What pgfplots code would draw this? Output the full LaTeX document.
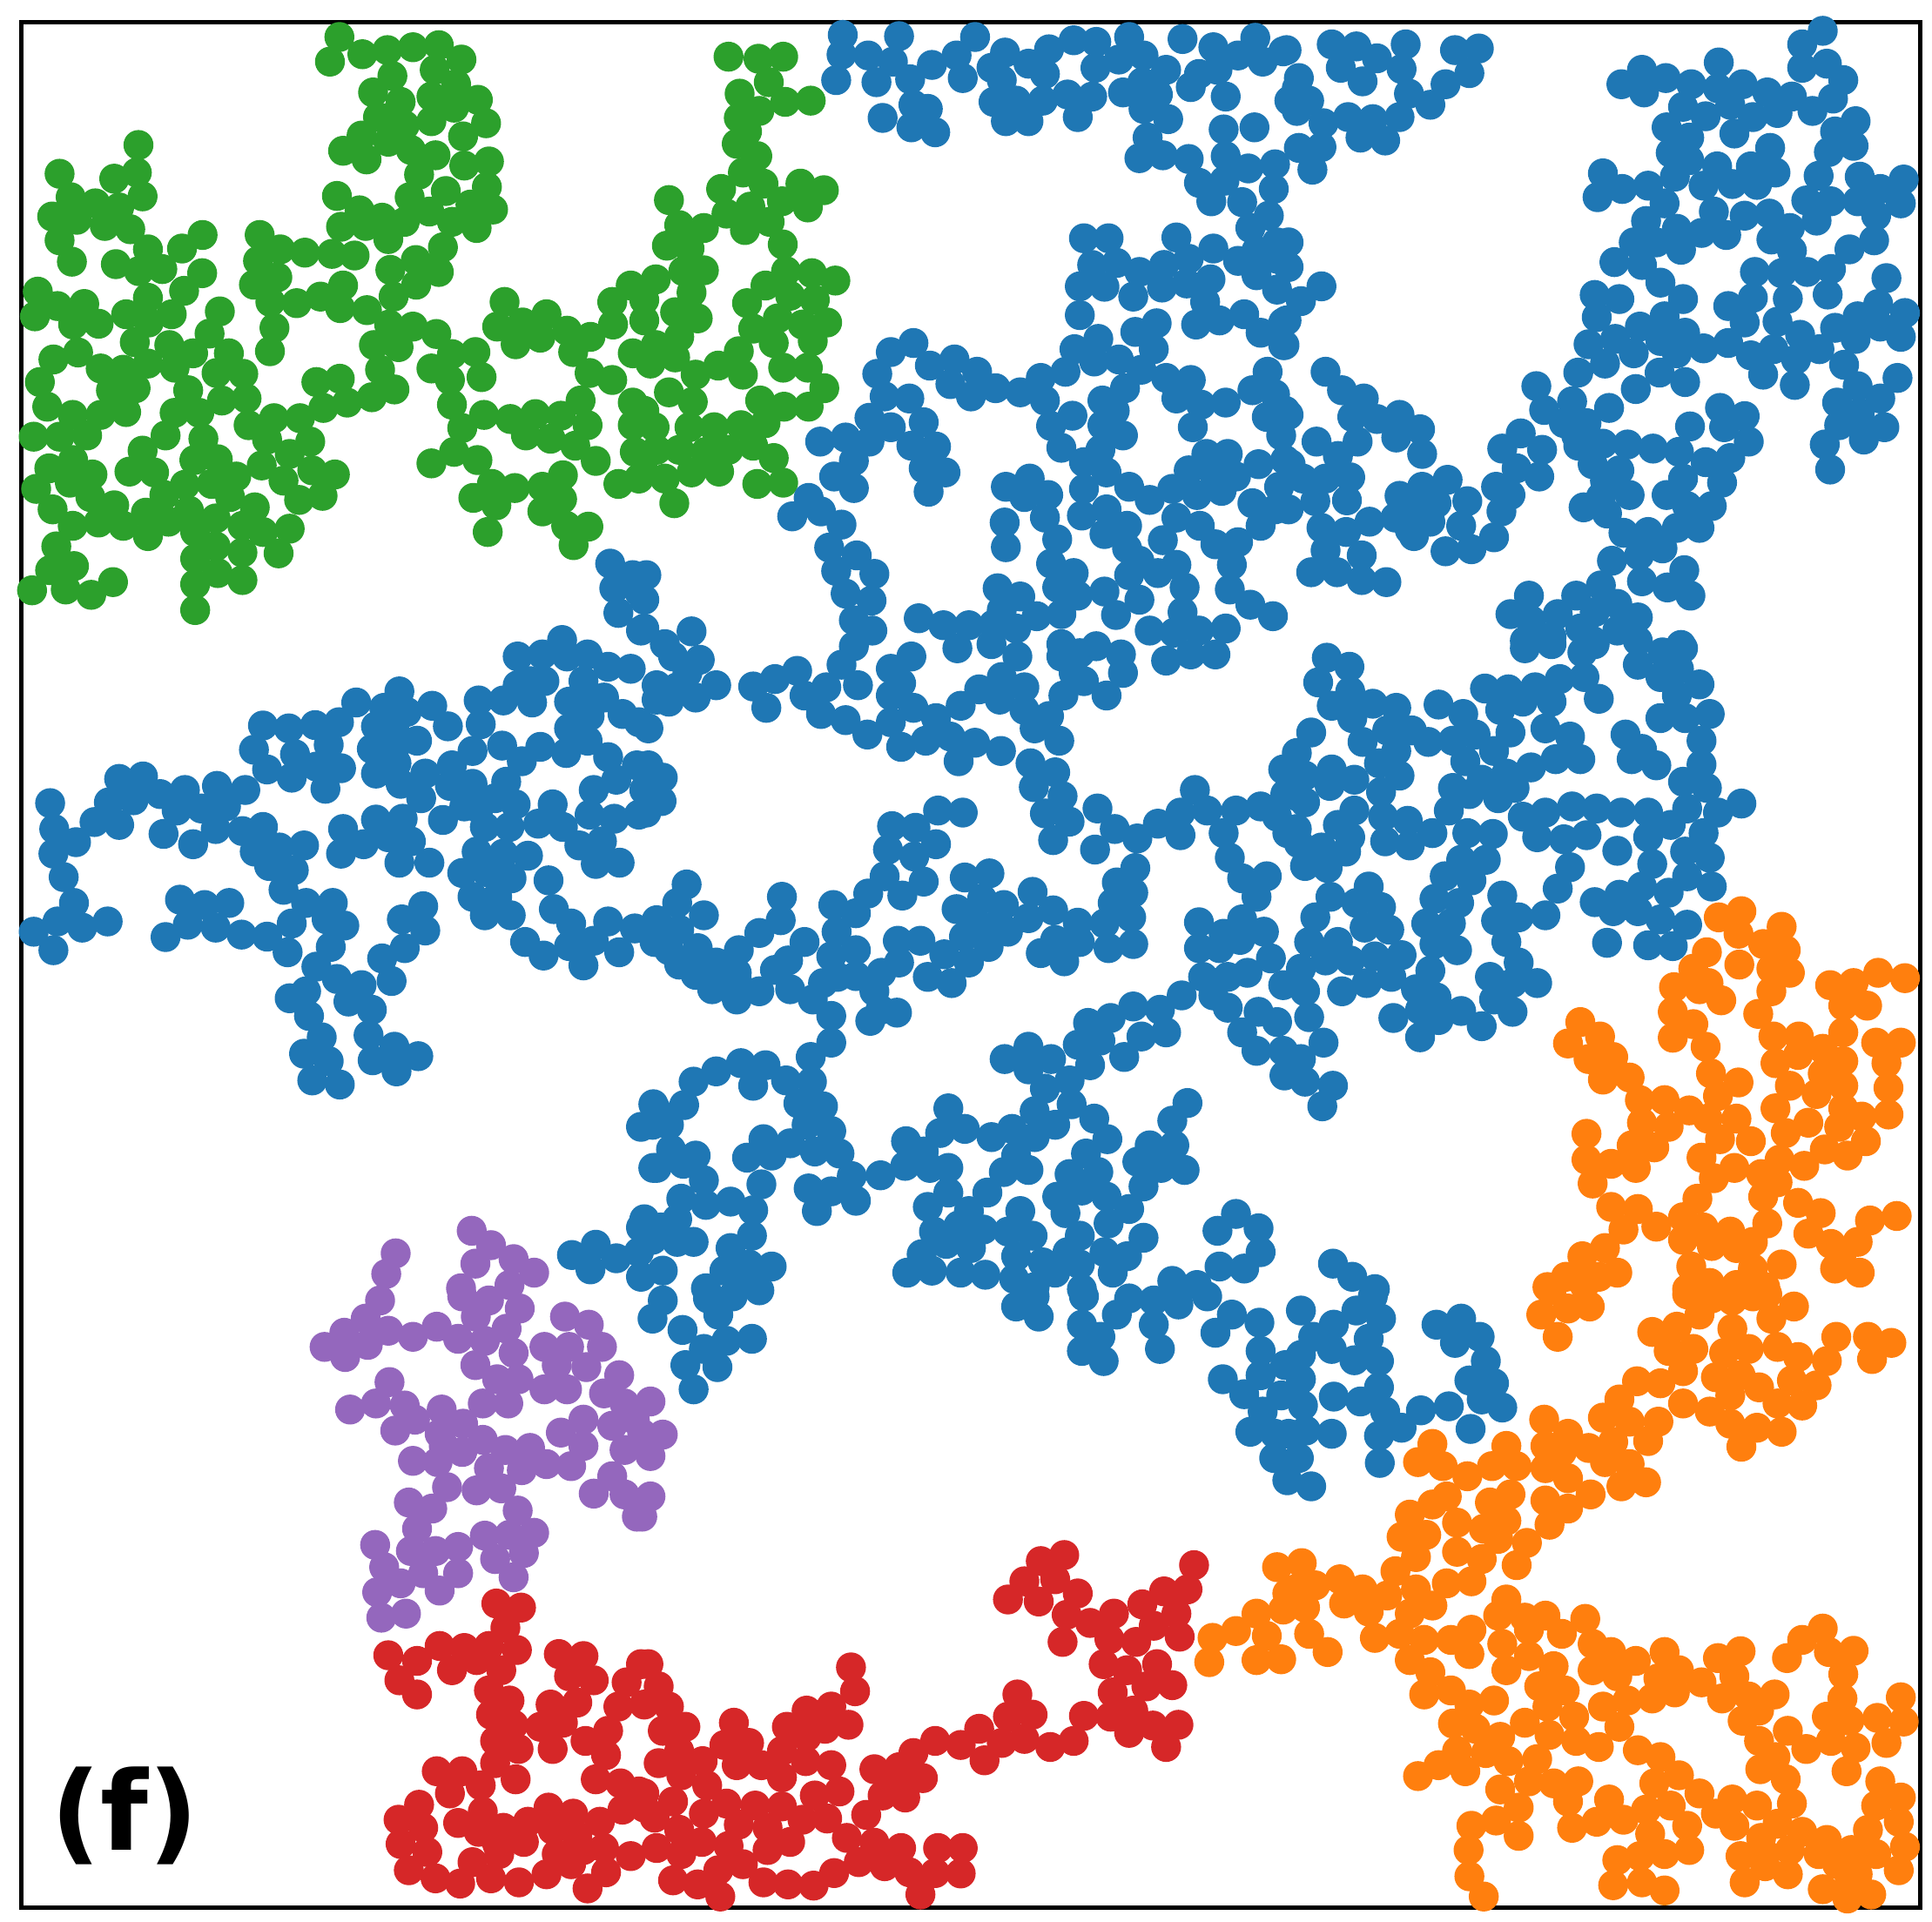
\documentclass[border=0pt]{standalone}
\usepackage{fontspec}
\usepackage{pgfplots}
\pgfplotsset{compat=1.18}
\setmainfont{DejaVu Sans}
\definecolor{cb}{HTML}{1F77B4}
\definecolor{co}{HTML}{FF7F0E}
\definecolor{cg}{HTML}{2CA02C}
\definecolor{cr}{HTML}{D62728}
\definecolor{cp}{HTML}{9467BD}
\pgfplotsset{
  tile/.style n args={3}{only marks, mark=*, mark size=4.1pt, color=#1, mark options={draw=none, fill=#1},
    x filter/.expression={x/2.119+#2}, y filter/.expression={y/2.119+#3}},
  tileb/.style n args={2}{only marks, mark=*, mark size=4.1pt, color=#1, mark options={draw=none, fill=#1},
    x filter/.expression={x/2.119+#2}, y filter/.expression={y/2.154+1480}}
}
\begin{document}
\begin{tikzpicture}
\begin{axis}[
  scale only axis, width=545.25pt, height=541.5pt,
  xmin=24, xmax=2205, ymin=25, ymax=2191, y dir=reverse,
  ticks=none, axis line style={line width=1.25pt, black}, clip=true
]
% tile 1
\addplot[tile={cg}{0}{0}] coordinates {(826,90) (803,150) (882,132) (943,122) (1005,115) (1068,110) (1123,145) (955,185) (1058,170) (1110,205) (908,225) (975,248) (1050,235) (1105,262) (1163,243) (1183,300) (1050,295) (1127,332) (920,285) (960,280) (880,330) (985,305) (945,345) (835,367) (892,388) (1000,365) (1060,378) (1190,393) (1130,403) (1020,425) (1185,455) (1085,465) (997,480) (820,477) (1200,510) (875,512) (930,530) (1145,498) (1045,515) (1100,540) (985,540) (1160,555) (830,552) (890,550) (945,582) (1078,602) (1012,633) (863,622) (808,618) (742,615) (682,607) (632,572) (628,635) (950,657) (1068,662) (1040,655) (1013,693) (958,722) (618,693) (675,675) (640,670) (658,735) (835,695) (780,722) (722,738) (828,750) (893,755) (668,798) (657,855) (947,790) (1005,795) (1062,813) (970,845) (910,840) (1100,862) (1157,857) (1050,897) (1095,925) (1172,918) (925,900) (960,948) (905,967) (845,980) (770,930) (827,922) (787,993) (730,1018) (667,1018) (1100,985) (1125,1042) (1178,1010) (1242,1020) (1303,1008) (1365,1012) (1413,975) (1430,1035) (1280,1060) (1340,1068) (1400,1085) (1450,1122) (1105,1100) (1050,1128) (1162,1120) (1197,1178) (1152,1212) (1208,1230) (1253,1188) (1187,1295) (1320,1185) (1370,1157) (1340,1220) (1368,1215) (1320,1245) (1378,1280) (1432,1282) (1396,1327)
(1228,735) (1210,795) (1272,785) (1330,765) (1255,838) (1315,822) (1380,805) (1395,857) (1437,820) (1435,908) (1490,925) (1492,790) (1490,735) (1535,695) (1540,860) (1540,980) (1540,1035) (1545,1100) (1505,1178) (1555,1165) (1568,780) (1568,730)
(337,353) (333,420) (278,435) (347,478) (145,423) (172,480) (232,495) (127,527) (187,535) (290,505) (255,550) (317,558) (145,585) (175,637) (360,607) (443,605) (493,572) (282,643) (338,660) (395,655) (492,665) (448,708) (360,725) (92,710) (140,745) (205,740) (85,770) (178,790) (240,788) (307,765) (362,785) (418,765) (535,758) (510,812) (328,833) (412,840) (470,860) (190,858) (130,875) (245,897) (360,885) (425,895) (557,860) (527,908) (592,910) (97,930) (300,900) (330,945) (270,950) (458,950) (115,990) (300,985) (540,975) (600,970) (177,1010) (245,1010) (307,1003) (425,1005) (485,1005) (605,1035) (82,1063) (145,1063) (212,1060) (403,1060) (495,1068) (347,1097) (650,1070) (755,1075) (705,1105) (120,1140) (178,1120) (225,1155) (170,1175) (315,1148) (375,1150) (473,1120) (530,1118) (637,1133) (760,1145) (815,1155) (690,1170) (88,1190) (450,1180) (515,1178) (575,1160) (400,1205) (220,1210) (728,1217) (785,1207) (128,1240) (278,1230) (355,1248) (460,1243) (560,1210) (620,1235) (525,1262) (590,1280) (177,1280) (240,1272) (300,1280) (360,1305) (410,1270) (475,1295) (640,1295) (705,1287) (137,1330) (678,1347) (525,1330) (590,1345) (475,1360) (180,1378) (122,1388) (530,1395) (590,1412) (78,1437) (160,1435) (222,1448) (275,1417) (475,1422) (475,1485)};
\addplot[tile={cb}{0}{0}] coordinates {(1485,1372) (1540,1400) (1495,1432) (1505,1492) (1555,1440) (1560,1535) (1368,1558)};
% tile 2
\addplot[tile={cg}{740}{0}] coordinates {(205,138) (278,143) (338,138) (303,200) (232,228) (343,248) (405,245) (230,287) (280,270) (250,320) (225,350) (275,380) (240,420) (290,447) (187,460) (380,447) (437,463) (60,487) (200,520) (258,503) (335,490) (398,505) (85,548) (145,555) (245,560) (305,540) (337,595) (55,598) (110,605) (345,660) (408,665) (465,683) (145,658) (95,660) (28,680) (295,695) (115,712) (355,720) (415,730) (250,738) (75,760) (130,775) (325,775) (445,785) (265,800) (385,790) (85,820) (315,835) (410,830) (28,840) (230,855) (75,870) (398,895) (338,895) (180,890) (125,912) (240,912) (15,885) (438,945) (60,955) (118,978) (282,975) (340,990) (400,990) (0,1000) (25,1040) (110,1040) (170,1040) (235,1035) (295,1030) (265,1085) (85,1095) (150,1100) (205,1095) (315,1115) (30,1095) (115,1150) (182,1148) (0,1150) (50,1165) (338,1175) (275,1178) (73,1225)};
\addplot[tile={cb}{740}{0}] coordinates {(483,85) (620,88) (480,133) (545,135) (605,150) (467,195) (565,200) (647,193) (700,158) (760,135) (805,90) (878,128) (775,190) (845,165) (935,155) (985,120) (1045,98) (1100,102) (1180,90) (1098,165) (1155,145) (1215,135) (870,195) (975,180) (850,248) (905,245) (970,245) (1030,230) (1090,235) (880,295) (935,295) (1055,285) (655,255) (690,265) (580,287) (650,310) (708,322)
(1310,95) (1385,115) (1487,92) (1445,135) (1505,150) (1555,125) (1270,170) (1350,180) (1395,170) (1212,200) (1165,225) (1330,212) (1415,235) (1250,230) (1215,265) (1275,290) (1570,245) (1410,315) (1485,310) (1225,335) (1205,385) (1262,378) (1325,387) (1415,380) (1470,410) (1350,445) (1412,440) (1535,400) (1532,460) (1380,490) (1455,492) (1520,525) (1475,555) (1540,590)
(1070,580) (1130,580) (1295,578) (1090,645) (1150,640) (1325,630) (1385,605) (1205,662) (1265,645) (1490,610) (1445,635) (1540,630) (1060,697) (1120,698) (1190,722) (1260,700) (1320,690) (1378,680) (1490,670) (1540,705) (1060,767) (1365,735) (1195,808) (1247,787) (1343,790) (1400,780) (1460,765) (1500,810) (1555,785) (1555,840) (1240,850) (1105,825) (1047,850) (1095,880) (1155,875) (1210,900) (1025,905) (965,920) (915,955) (1270,920) (1330,925) (1517,905) (1115,975) (1170,945) (1295,970) (1355,985) (1415,980) (1480,950) (1535,960) (975,975) (1042,1012) (1145,1000) (990,1037) (1115,1035) (1165,1060) (1335,1040) (1515,1015) (1560,1000) (1550,1060) (1015,1090) (1110,1095) (1070,1125) (1368,1105) (1420,1105) (1560,1120) (1125,1150) (1325,1145) (1385,1150) (1440,1160) (1495,1130) (1070,1190) (1180,1185) (1230,1217) (1285,1190) (1345,1205) (1405,1195) (1545,1185) (1480,1225) (1535,1240)
(880,1185) (938,1165) (983,1205) (925,1210) (975,1260) (877,1272) (880,1332) (1005,1313) (1065,1255) (1125,1240) (1175,1280) (1120,1300) (1295,1260) (1352,1280) (1500,1280) (1262,1315) (1175,1335) (1390,1325) (1445,1320) (990,1372) (1045,1395) (1205,1365) (1295,1375) (1430,1375) (1180,1400) (1250,1395) (1005,1430) (860,1432) (915,1452) (1055,1450) (1120,1440) (1315,1430) (1205,1460) (1425,1435) (1475,1472) (1530,1500) (870,1485) (955,1500) (1015,1495) (1148,1497) (1310,1490) (668,1505) (728,1522) (790,1522) (850,1520) (905,1530) (1015,1568) (1230,1535) (1290,1540) (1350,1535) (1415,1530) (1060,1590)
(655,835) (600,857) (567,910) (695,890) (755,875) (810,905) (745,935) (795,965) (855,945) (585,965) (645,970) (548,1017) (680,1028) (600,1040) (490,1065) (428,1075) (548,1075) (710,1087) (650,1085) (510,1122) (680,1140) (733,1150) (462,1160) (510,1188) (692,1197) (400,1212) (360,1257) (430,1245) (480,1277) (450,1333) (517,1352) (560,1397) (467,1390) (490,1445) (553,1462) (510,1510) (555,1535) (115,1537) (50,1568) (5,1400) (0,1460) (0,1530)};
% tile 3
\addplot[tile={cb}{1480}{0}] coordinates {(105,108) (165,113) (285,108) (215,142) (127,165) (275,168) (180,198) (405,122) (463,118) (440,178) (382,205) (293,228) (345,255) (25,190) (50,245) (20,215) (20,270) (85,300) (145,285) (205,290) (270,285) (175,335) (235,342) (-5,122) (80,358) (25,360) (58,413)
(1300,75) (1250,108) (1047,152) (860,170) (810,205) (918,190) (865,225) (980,205) (1105,205) (1045,215) (1165,225) (1225,235) (1250,165) (1310,155) (1350,195) (960,260) (1015,283) (1075,255) (1130,285) (1190,275) (1275,270) (1325,240) (1380,295) (920,310) (1085,325) (975,335) (1330,320) (1375,355) (1172,360) (930,372) (1315,370) (975,390) (1043,405) (1125,405) (1185,420) (765,422) (1290,428) (940,430) (875,452) (812,460) (752,480) (1010,452) (1080,448) (1140,450) (1390,430) (1497,437) (915,495) (1260,488) (1320,490) (1385,490) (1440,460) (1490,495) (1035,515) (1110,525) (1170,520) (870,538) (1285,537) (945,557) (1005,567) (1065,572) (1220,555) (1430,525) (840,590) (1175,583) (955,608) (895,590) (1365,607) (1425,585) (793,638) (860,645) (1225,610) (1135,662) (1200,665) (1262,662) (1320,655) (905,688) (1455,677) (745,718) (805,728) (960,728) (1130,725) (1215,727) (1312,717) (1070,745) (1435,740) (915,770) (750,772) (1190,783) (1110,785) (1385,770) (1500,762) (855,795) (1330,798) (1245,815) (1440,795) (795,825) (730,838) (965,810) (905,830) (1490,820) (1380,825) (1010,848) (1070,835) (840,860) (945,860) (1180,850) (1125,865) (1235,875) (1292,850) (770,885) (705,907) (903,907) (1155,912) (1352,888) (845,947) (965,930) (1232,937) (1385,940) (1482,920) (1440,970)
(603,940) (690,977) (780,993) (622,998) (1050,993) (1110,1013) (1335,980) (1390,1005) (725,1030) (670,1030) (977,1038) (565,1055) (700,1060) (765,1080) (1060,1040) (1120,1075) (1340,1035) (1400,1070) (1450,1040) (1385,1030) (520,1092) (617,1095) (825,1082) (887,1092) (705,1085) (1075,1115) (950,1100) (1305,1082) (740,1130) (1015,1125) (805,1145) (555,1140) (610,1160) (1318,1143) (505,1185) (960,1165) (1055,1175) (540,1205) (770,1170) (830,1205) (760,1210) (920,1205) (518,1245) (718,1235) (1030,1232) (970,1232) (775,1250) (1000,1285) (945,1285) (815,1297) (875,1295) (910,1335) (853,1352) (787,1365) (963,1388) (860,1415) (922,1430) (978,1450)
(90,905) (130,950) (183,970) (270,1010) (155,1015) (215,1020) (320,1045) (262,1065) (0,1010) (68,1075) (168,1075) (325,1105) (120,1110) (5,1130) (35,1165) (90,1165) (150,1162) (65,1220) (142,1218) (0,1240) (387,1168) (325,1185) (270,1207) (360,1225) (435,1220) (320,1245) (295,1290) (420,1280) (197,1270) (80,1285) (140,1295) (260,1260) (345,1270) (500,1308) (305,1305) (445,1337) (382,1342) (90,1340) (178,1352) (55,1393) (118,1393) (178,1412) (238,1417)
(585,1450) (760,1425) (700,1450) (540,1495) (655,1495) (800,1470) (745,1490) (850,1503) (590,1510) (710,1530) (800,1535) (575,1560) (640,1550) (740,1560) (850,1560) (955,1570) (80,697) (30,733) (-5,780) (-10,840) (0,590) (0,650)};
% tile 4
\addplot[tile={cb}{0}{740}] coordinates {(972,115) (867,142) (1052,150) (1090,200) (935,155) (990,165) (825,190) (640,198) (703,205) (767,197) (915,200) (960,205) (1015,235) (618,257) (718,268) (800,245) (905,255) (960,255) (650,305) (710,325) (770,298) (830,302) (915,315) (965,290) (792,352) (975,340) (1035,315) (1025,375) (290,328) (348,322) (265,385) (325,380) (390,365) (450,355) (528,345) (597,355) (122,387) (230,433) (290,440) (430,405) (490,400) (550,395) (132,450) (185,482) (398,462) (470,487) (525,450) (590,455) (640,445) (130,510) (620,505) (680,495) (740,490) (655,540) (715,550) (155,567) (690,598) (180,630) (438,622) (498,635) (558,630) (745,630) (810,630) (710,680) (795,670) (838,685) (140,675) (200,690) (262,675) (457,683) (525,690) (82,700) (588,707) (650,712) (403,713) (805,737) (700,750) (130,745) (770,785) (820,815) (880,830) (745,845) (705,862) (848,870) (905,890) (752,905) (783,957) (897,952) (740,997) (800,1015) (907,1013) (960,980) (1018,1003) (965,1040) (760,1062) (827,1072)
(1030,638) (978,670) (1035,697) (985,740) (930,765) (953,820) (835,450) (830,510) (885,487) (915,427) (980,425) (945,470) (1000,480) (972,532) (1045,532)
(1260,30) (1320,25) (1380,30) (1430,25) (1480,55) (1535,60) (1290,90) (1260,100) (1420,90) (1325,90) (1165,137) (1225,137) (1295,142) (1385,140) (1470,130) (1430,130) (1515,170) (1170,195) (1385,205) (1435,175) (1555,190) (1150,260) (1222,247) (1315,250) (1270,285) (1378,265) (1430,235) (1480,275) (1100,295) (1232,335) (1095,345) (1150,340) (1500,330) (1550,295) (1445,355) (1205,375) (1255,390) (1165,400) (1078,428) (1130,395) (1345,390) (1435,415) (1495,425) (1555,415) (1180,445) (1240,445) (1310,437) (1370,445) (1410,490) (1465,480) (1160,505) (1225,510) (1285,515) (1450,535) (1508,532) (1125,557) (1185,555) (1245,570) (1335,575) (1150,615) (1210,615) (1348,645) (1180,660) (1243,660) (1390,680) (1480,675) (1545,692) (1278,725) (1445,722) (1385,735) (1323,758) (1507,750) (1420,782)
(1560,1175) (1595,1130) (1590,1275) (1392,1487) (1450,1462) (1500,1495) (1555,1480) (1437,1522) (1560,1420) (1560,1540)};
\addplot[tile={cp}{0}{740}] coordinates {(1148,1428) (1195,1463) (1250,1497) (1157,1508) (1300,1530) (963,1483) (940,1533) (1240,1560) (1122,1568)};
% tile 5
\addplot[tile={cb}{740}{740}] coordinates {(510,5) (650,30) (762,10) (845,0) (908,30) (1390,25) (1270,40) (1330,25) (135,38) (70,30) (600,60) (480,50) (105,70) (175,100) (625,95) (30,100) (80,105) (265,103) (318,85) (372,65) (520,100) (443,105) (30,135) (125,130) (60,140) (600,125) (390,125) (297,155) (10,205) (655,155) (430,170) (490,185) (600,190) (710,180) (543,220) (625,250) (685,235) (745,225) (805,240) (868,260) (765,285)
(815,110) (870,80) (925,105) (770,150) (865,135) (925,160) (985,175) (950,205) (1010,235) (940,290) (1000,312) (948,348) (1018,370) (975,412) (1035,432) (995,477) (1015,30) (1045,70) (1165,70) (1020,125) (1070,90) (1125,125) (1160,25) (1100,5)
(715,405) (775,410) (603,443) (660,447) (710,487) (593,500) (657,517) (585,565) (680,578) (545,607) (628,612) (780,568) (840,558) (822,620) (760,645) (945,603) (875,635) (995,648) (460,635) (515,655) (335,615) (332,672) (280,703) (468,700) (390,725) (515,745) (617,722) (672,722) (230,745) (455,760) (810,680) (860,680) (935,667) (778,712) (838,737) (885,700) (730,755) (620,775) (350,770) (318,793) (577,800) (515,808) (790,775) (690,810) (748,825) (355,840) (280,845) (435,825) (470,810) (410,865) (455,905) (575,890) (615,897) (550,917) (560,845)
(103,585) (145,660) (80,630) (30,672) (85,695) (25,725) (130,740) (60,745) (85,780) (30,690) (175,775) (125,805) (175,810) (225,800) (165,840) (225,865) (225,815) (45,325) (10,295) (42,382) (5,410) (0,355)
(1103,400) (1145,450) (1200,473) (1097,500) (1250,437) (1305,410) (1305,465) (1340,355) (1370,405) (1440,405) (1500,395) (1410,460) (1425,520) (1540,420) (1555,305) (1560,365) (1565,460) (1195,545) (1150,580) (1190,605) (1140,630) (1185,665) (1515,565) (1455,570) (1490,615) (1055,678) (1120,680) (1190,730) (1000,720) (1060,725) (1130,740) (965,752) (1022,772) (1350,677) (1410,705) (1455,670) (1508,700) (1350,740) (1400,740) (1450,720) (1525,765) (1468,800) (1555,830) (1360,810) (1420,810) (1420,885) (1308,855) (1385,855) (1495,895) (1455,945) (1540,920) (1490,990) (1555,990) (1558,1050)
(1190,882) (1255,890) (1135,910) (1080,922) (1210,955) (1270,945) (1055,975) (1110,965) (1168,1005) (935,980) (877,1010) (990,1010) (935,1035) (1085,1025) (1035,1062) (975,1082) (1040,1120) (1095,1155) (950,1137) (1127,1205) (1322,1117) (1285,1160) (895,1180) (1000,1170) (845,1200) (950,1200) (905,1245) (1230,1220) (1290,1220) (1075,1240) (1200,1260) (1258,1275) (1315,1280) (875,1285) (935,1280) (1035,1290) (1105,1285) (1215,1320) (835,1335) (1005,1345) (1065,1330) (1125,1345) (1180,1375) (1025,1385) (1130,1410) (915,1380)
(740,1130) (780,1180) (720,1190) (637,1210) (680,1235) (635,1270) (695,1275) (575,1293) (740,1275) (740,1335) (690,1370) (790,1380) (1440,1387) (1395,1428) (1495,1422) (1500,1480) (1400,1515) (1460,1520)
(235,1020) (295,1025) (175,1040) (120,1065) (345,1062) (265,1075) (405,1005) (455,970) (408,1065) (22,1120) (97,1122) (375,1118) (435,1125) (60,1170) (395,1170) (455,1185) (20,1170) (290,1205) (355,1215) (65,1230) (415,1235) (475,1240) (125,1245) (250,1250) (310,1245) (30,1275) (95,1265) (145,1305) (505,1295) (285,1315) (400,1325) (455,1332) (515,1355) (420,1380) (90,1350) (150,1365) (210,1357) (265,1378) (40,1420) (80,1400) (262,1440) (20,1450) (80,1455) (120,1455) (210,1470) (45,1525) (255,1510) (310,1515) (195,1525) (0,1400)
(705,1430) (765,1415) (825,1425) (885,1430) (945,1440) (1060,1440) (1215,1445) (675,1485) (735,1460) (795,1470) (905,1490) (1030,1480) (1120,1480) (1175,1490) (970,1505) (640,1530) (700,1525) (770,1530) (830,1535) (900,1545) (1000,1530) (1060,1510) (1140,1530) (1285,1550) (1345,1560) (150,1568) (230,1555) (950,1565) (1065,1570)};
% tile 6
\addplot[tile={cb}{1480}{740}] coordinates {(93,33) (148,55) (72,93) (150,115) (105,150) (205,145) (262,155) (155,180) (575,10) (640,0) (715,20) (745,0) (850,50) (910,20) (960,10) (905,80) (950,60) (1000,98) (945,125) (478,108) (535,110) (600,105) (660,85) (720,80) (755,133) (365,147) (425,170) (515,160) (570,140) (640,140) (625,205) (540,215) (685,225) (905,180) (965,180) (1025,170) (820,220) (1005,235) (55,215) (240,210) (300,210) (180,238) (340,238) (400,235) (455,220) (500,260) (262,260) (20,265) (860,255) (1005,293) (650,280) (710,280) (835,280) (895,295) (220,290) (430,285) (590,300) (530,315) (105,305) (960,335) (270,320) (40,320) (160,330) (470,330) (1018,350) (400,350) (225,360) (550,350) (100,345) (20,370) (40,385) (440,365) (510,375) (160,405) (390,405) (1102,388) (690,395) (750,400) (810,410) (875,410) (970,400) (1045,410) (570,420) (625,410) (230,420) (290,430) (120,440) (150,470) (20,450) (930,440) (435,460) (497,462) (235,480) (350,460) (295,490) (605,470) (670,475) (725,465) (875,470) (1010,460) (800,503) (965,505) (1025,520) (420,525) (480,525) (80,495) (25,485) (140,505) (40,540) (95,545) (885,535) (685,543) (380,565) (445,575) (195,590) (970,565) (655,595) (1030,590) (102,615) (520,612) (355,620) (415,630) (165,630) (860,590) (805,610) (925,605) (745,628) (225,640) (65,665) (505,673) (560,665) (625,660) (335,680) (395,680) (850,650) (790,650) (905,670) (970,683) (185,690) (245,695) (50,725) (120,725) (355,730) (410,745) (530,725) (775,727) (875,733) (935,735) (90,770) (150,770) (210,760) (275,757) (30,790) (560,775) (345,795) (190,825) (250,810) (40,845) (130,845) (490,810) (605,825) (545,825) (310,840) (500,865) (360,860) (50,908) (255,910) (320,890) (420,893) (545,895) (470,930) (365,915) (320,957) (85,970) (30,1010) (40,1065) (108,1075) (82,1125) (108,1508) (155,1540) (210,1570)};
\addplot[tile={co}{1480}{740}] coordinates {(1102,650) (1047,665) (1200,688) (1095,705) (1155,730) (1210,745) (1018,750) (985,790) (1097,780) (1220,800) (1175,790) (1022,825) (938,835) (1000,840) (1175,845) (1435,800) (1500,813) (1318,830) (1375,825) (1053,867) (1350,880) (1408,880) (935,895) (1143,900) (710,920) (985,925) (758,955) (1242,955) (1350,945) (1180,955) (680,972) (935,958) (1015,980) (1430,970) (1490,970) (790,1005) (1300,985) (1240,1000) (1350,1015) (730,1010) (1185,1020) (1455,1020) (1028,1045) (775,1035) (1300,1045) (830,1055) (765,1060) (1095,1067) (1220,1075) (1350,1075) (1460,1080) (855,1110) (915,1110) (1045,1100) (1285,1095) (975,1135) (1185,1130) (1395,1150) (1350,1130) (1460,1145) (1020,1155) (1090,1155) (860,1165) (925,1175) (1265,1165) (1340,1175) (725,1192) (1210,1190) (1050,1205) (1125,1210) (835,1220) (890,1225) (1405,1210) (1305,1230) (1360,1245) (1005,1250) (1195,1255) (725,1255) (785,1265) (845,1275) (1085,1275) (1255,1270) (1150,1290) (1035,1300) (740,1313) (1190,1310) (995,1350) (1155,1345) (785,1370) (850,1375) (1240,1360) (1295,1385) (1480,1392) (1415,1403) (960,1395) (1165,1410) (895,1418) (815,1425) (1010,1420) (1075,1430) (960,1450) (1265,1435) (1385,1455) (1320,1460) (770,1470) (1130,1455) (1090,1470) (1030,1465) (715,1490) (1345,1490) (1200,1510) (800,1530) (980,1515) (1130,1520) (675,1540) (755,1540) (1330,1520) (1390,1530) (630,1565) (1025,1555) (1090,1560) (1160,1565) (970,1570) (720,1560)};
% tile 7
\addplot[tileb={cp}{0}] coordinates {(925,30) (1125,20) (1190,30) (1265,50) (890,75) (1158,70) (1375,70) (838,110) (945,105) (1063,95) (1005,120) (1115,125) (1433,90) (1233,100) (790,145) (895,140) (1180,130) (1325,145) (1385,145) (1465,145) (840,170) (1250,160) (1157,190) (1427,195) (1507,215) (1355,190) (1210,225) (1262,225) (948,232) (1470,260) (1325,250) (1380,250) (1175,285) (1237,285) (1520,285) (915,285) (852,300) (985,290) (1075,300) (1420,325) (1490,340) (1545,325) (1127,335) (1010,325) (962,352) (1070,360) (1365,357) (1175,375) (1420,390) (1520,400) (1080,390) (1230,400) (1290,395) (1125,405) (1005,427) (1065,430) (1270,450) (1330,435) (1390,440) (1190,445) (1490,465) (1088,492) (1160,500) (1220,495) (1445,508) (1520,510) (995,530) (1052,545) (1260,550) (1550,565) (1015,595) (1180,612) (1240,610) (1300,605) (913,635) (1115,640) (1000,650) (1060,650) (1205,670) (1275,655) (1030,705) (935,690) (1115,705) (1250,715) (975,730) (918,752) (1070,748) (928,815) (988,805)};
\addplot[tileb={cr}{0}] coordinates {(1208,780) (1268,790) (1230,840) (945,908) (1070,885) (1130,890) (1190,885) (1258,895) (1015,922) (1100,945) (1160,920) (1220,945) (1360,905) (1420,910) (972,970) (1385,960) (1445,970) (1190,995) (1015,1005) (1240,1020) (1525,975) (1340,1030) (1405,1025) (1505,1035) (1195,1055) (1560,930) (1250,1080) (1315,1085) (1370,1075) (1480,1095) (1205,1120) (1262,1140) (1345,1140) (1425,1120) (1475,1155) (1205,1175) (1063,1195) (1125,1195) (1255,1215) (1450,1215) (1170,1230) (1095,1250) (1510,1225) (1020,1278) (1175,1295) (1335,1285) (1395,1300) (1555,1245) (1515,1290) (970,1315) (1115,1323) (1460,1320) (1030,1335) (1165,1345) (1225,1335) (1285,1320) (1345,1340) (975,1375) (1210,1375) (1275,1370) (1405,1355) (1470,1385) (1535,1405) (1040,1395) (1150,1420) (1215,1400) (1355,1400) (1420,1390) (995,1440) (1060,1460) (1120,1473) (1195,1460) (1263,1470) (1330,1450) (1390,1425) (1475,1445) (1430,1485)};
% tile 8
\addplot[tileb={cb}{740}] coordinates {(45,30) (155,25) (215,20) (280,5) (180,65) (20,75) (93,103) (262,125) (200,130) (145,150) (100,190) (178,195) (120,250) (905,45) (960,70) (950,20) (1065,90) (1070,20) (1150,65) (1180,25) (1240,90) (1240,30) (1300,40) (1370,20) (1430,65) (1390,110) (1110,120) (1065,155) (1118,180) (1255,150) (1497,85) (1500,155) (1500,215) (1560,190) (1408,225) (1460,262) (1550,265) (1505,305) (1475,355) (1535,360) (1533,420) (1565,475)};
\addplot[tileb={cp}{740}] coordinates {(15,280) (45,362) (15,415) (15,515) (-5,565) (-5,360)};
\addplot[tileb={cr}{740}] coordinates {(1022,660) (965,675) (925,725) (1000,720) (885,770) (960,775) (1055,755) (1028,808) (1085,828) (1143,805) (1018,875) (1132,868) (1197,875) (1212,782) (1265,750) (1322,745) (1338,685) (1295,805) (1240,835) (1303,862) (1118,930) (1175,945) (1248,930) (1285,982) (1222,985) (1140,1000) (1070,1058) (1135,1060) (1190,1045) (1045,1120) (988,1135) (1180,1100) (1238,1082) (1300,1080) (1270,1135)
(908,1005) (945,1055) (885,1060) (925,1115) (815,1090) (870,1125) (770,1130) (708,1120) (828,1168) (655,1150) (560,1190) (620,1185) (678,1212) (615,1225) (580,1255) (635,1260) (540,1303)
(503,938) (513,997) (455,1035) (395,1045) (497,1080) (440,1090) (347,1085) (395,1110) (335,1145) (218,1075) (195,1130) (255,1125) (100,1085) (45,1095) (85,1145) (142,1170) (35,1175) (225,1180) (285,1180) (393,1170) (455,1180) (335,1210) (90,1205) (153,1230) (475,1245) (415,1255) (70,1270) (200,1275) (270,1280) (335,1282) (145,1300) (25,1310) (385,1315) (445,1312) (230,1327) (300,1335) (85,1340) (30,1385) (140,1370) (90,1400) (205,1380) (355,1370) (300,1390) (493,1360) (560,1372) (625,1385) (180,1440) (240,1425) (522,1420) (585,1430) (715,1385) (775,1385) (70,1465) (130,1475) (290,1470) (350,1475) (412,1478) (462,1447) (645,1445) (708,1447) (770,1448) (185,1505) (672,1500) (10,930) (35,985) (60,1035) (0,1030) (0,1285) (0,1250)};
\addplot[tileb={co}{740}] coordinates {(1540,690) (1565,755) (1490,805) (1555,795) (1440,848) (1383,865) (1515,860) (1375,925) (1490,920) (1550,918)};
% tile 9
\addplot[tileb={cb}{1480}] coordinates {(205,20) (30,55) (360,90) (420,75) (110,90) (165,55) (225,75) (465,120) (405,135) (195,125) (60,120) (105,150) (160,178) (220,180) (30,165) (480,180) (440,228) (500,235) (30,225) (220,245) (110,268) (175,280) (470,275) (520,295) (35,290) (235,305) (322,302) (390,292) (275,345) (42,352) (105,360) (443,348) (220,365) (25,420) (222,432) (55,490) (0,360)};
\addplot[tileb={co}{1480}] coordinates {(640,5) (615,65) (680,50) (733,45) (655,120) (970,15) (1165,15) (1030,25) (1080,30) (1230,45) (1130,20) (1000,65) (945,95) (885,108) (1080,100) (1175,75) (1333,120) (1410,120) (1467,135) (985,150) (1120,150) (1190,145) (1060,160) (925,155) (1240,170) (1420,175) (1310,180) (960,205) (1100,215) (1040,220) (1225,228) (848,230) (905,235) (1145,245) (1285,240) (1075,265) (805,275) (960,285) (1190,285) (1250,290) (1025,305) (765,320) (830,330) (900,330) (622,325) (1075,335) (1140,345) (1200,355) (680,360) (790,380) (875,378) (1102,392) (530,390) (625,390) (350,385) (730,395) (665,405) (315,430) (375,440) (495,440) (555,440) (770,430) (830,435) (625,445) (680,470) (435,465) (810,490) (870,480) (540,510) (385,515) (735,510) (350,535) (625,525) (680,545) (490,530) (295,560) (530,575) (410,580) (635,585) (475,595) (275,615) (335,610) (580,630) (510,620) (410,652) (470,670) (310,665) (555,685) (32,680) (260,700) (125,720) (445,725) (385,730) (65,735) (180,745) (15,745) (240,760) (310,745) (135,780) (40,790) (350,785) (195,800) (295,805) (530,770) (575,815) (625,810) (722,818) (510,810) (50,855) (95,900) (445,845) (330,870) (395,870) (210,865) (270,855) (665,855) (585,845) (520,880) (740,880) (785,900) (915,900) (1100,898) (1045,915) (1250,870) (1300,842) (1375,897) (1213,915) (1315,900) (295,920) (440,905) (585,910) (645,935) (845,922) (740,945) (800,960) (530,945) (950,945) (345,950) (1005,975) (900,965) (1085,960) (1350,955) (610,985) (672,995) (395,995) (330,1005) (940,1000) (1055,1015) (1183,1005) (1120,1010) (1348,1015) (1490,1012) (825,1020) (885,1015) (500,1020) (765,1035) (630,1035) (440,1030) (695,1060) (1145,1045) (1310,1060) (1365,1070) (1433,1063) (1497,1072) (1105,1070) (400,1077) (575,1075) (805,1085) (635,1105) (455,1090) (515,1110) (1215,1095) (1145,1120) (700,1120) (755,1135) (1380,1137) (1320,1120) (1260,1140) (1455,1125) (850,1143) (410,1145) (480,1150) (535,1170) (605,1165) (905,1160) (1185,1160) (365,1180) (430,1195) (1148,1190) (1358,1195) (315,1207) (585,1220) (645,1225) (705,1220) (950,1205) (890,1225) (1210,1215) (1440,1220) (515,1240) (680,1270) (1000,1250) (780,1265) (1490,1260) (1140,1280) (1080,1265) (930,1280) (1225,1275) (560,1285) (505,1317) (870,1290) (1430,1280) (1040,1300) (1190,1325) (445,1330) (1085,1330) (750,1320) (815,1315) (690,1335) (970,1330) (1410,1340) (1485,1320) (1250,1345) (1310,1365) (560,1355) (880,1350) (1150,1360) (438,1390) (975,1390) (1500,1382) (1100,1405) (800,1415) (1220,1390) (855,1405) (915,1400) (1370,1390) (1160,1400) (1290,1400) (1430,1400) (1335,1425) (1110,1470) (1160,1430) (1215,1450) (1385,1450) (440,1455) (1485,1440) (790,1477) (860,1470) (1300,1487) (1365,1470) (475,1505) (915,1490) (1418,1500) (1360,1510)};
\node[anchor=base, inner sep=0pt] at (axis cs:143,2125) {\fontsize{31.5}{32}\bfseries\selectfont (f)};
\end{axis}
\path ([xshift=-6pt,yshift=-4.25pt]current axis.south west) rectangle ([xshift=3.5pt,yshift=6.25pt]current axis.north east);
\end{tikzpicture}
\end{document}
